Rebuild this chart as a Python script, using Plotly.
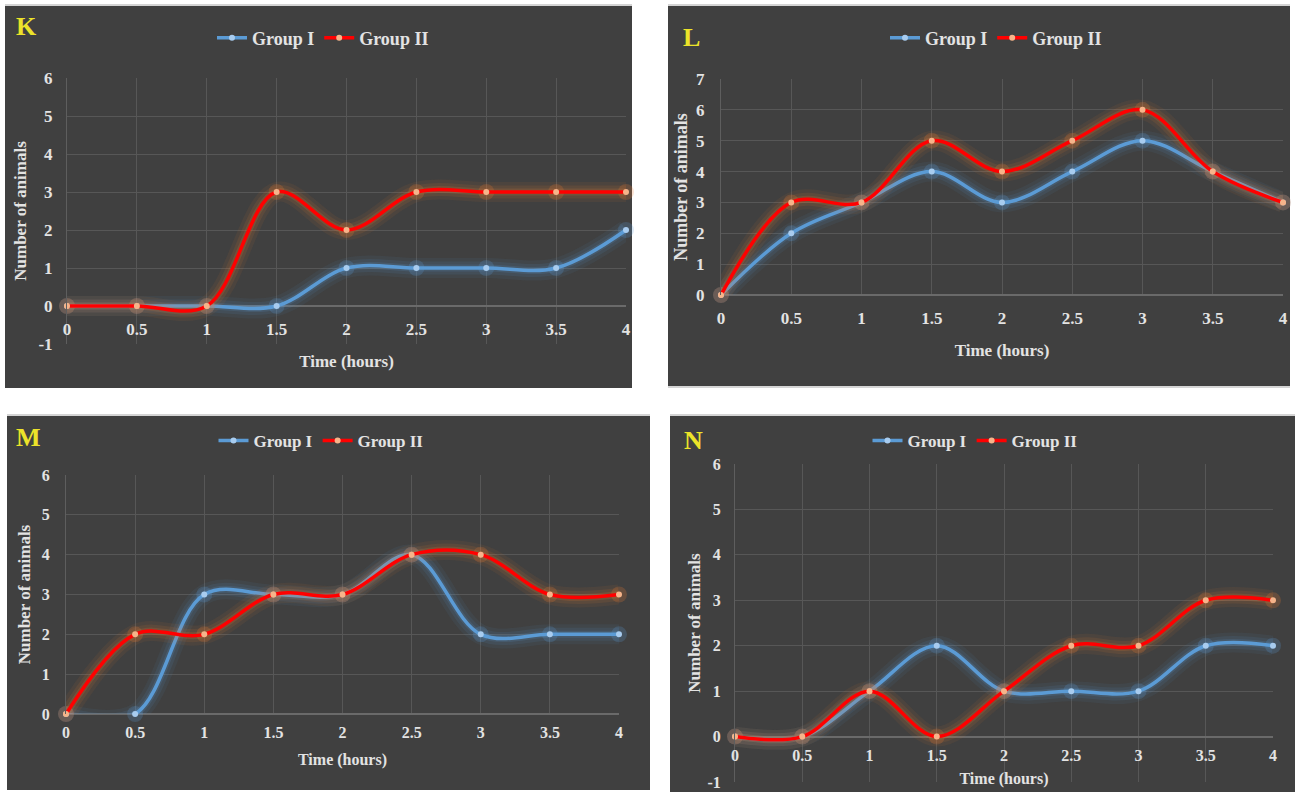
import plotly.graph_objects as go

W, H = 1295, 792

time_hours = [0, 0.5, 1, 1.5, 2, 2.5, 3, 3.5, 4]
tick_labels = ["0", "0.5", "1", "1.5", "2", "2.5", "3", "3.5", "4"]
series_names = ["Group I", "Group II"]

k_group1 = [0, 0, 0, 0, 1, 1, 1, 1, 2]
k_group2 = [0, 0, 0, 3, 2, 3, 3, 3, 3]
l_group1 = [0, 2, 3, 4, 3, 4, 5, 4, 3]
l_group2 = [0, 3, 3, 5, 4, 5, 6, 4, 3]
m_group1 = [0, 0, 3, 3, 3, 4, 2, 2, 2]
m_group2 = [0, 2, 2, 3, 3, 4, 4, 3, 3]
n_group1 = [0, 0, 1, 2, 1, 1, 1, 2, 2]
n_group2 = [0, 0, 1, 0, 1, 2, 2, 3, 3]

panel_letters = ["K", "L", "M", "N"]
y_ranges = [(-1, 6), (0, 7), (0, 6), (-1, 6)]

FONT = "Liberation Serif"
BG = "#404040"
TXT = "#e3e3e3"
GRID = "#575757"
BLUE = "#5b9bd5"
RED = "#ff0000"
BLUE_MK = "#a8ccef"
RED_MK = "#f6b48a"

def px(x):
    return x / W

def py(y):
    return 1 - y / H

# panel geometry in pixels
panels = [
    dict(bg=(5, 6, 632, 388), plot=(67, 78, 626, 344), legend=(323, 38), letter=(26, 27),
         fs=17, lfs=18, tsz=17, tstand=17, ytstand=7, ystd=10, xstd=11, ysz=17, bottom_line=False),
    dict(bg=(668, 6, 1290, 386), plot=(721, 79, 1283, 295), legend=(996, 38), letter=(691, 37),
         fs=17, lfs=18, tsz=17, tstand=17, ytstand=3, ystd=12, xstd=11, ysz=18, bottom_line=True),
    dict(bg=(7, 416, 650, 790), plot=(66, 475, 619, 714), legend=(321, 441), letter=(29, 437),
         fs=16, lfs=17, tsz=16, tstand=13, ytstand=6, ystd=12, xstd=7, ysz=17, bottom_line=False),
    dict(bg=(670, 416, 1295, 792), plot=(735, 464, 1273, 782), legend=(975, 441), letter=(694, 441),
         fs=16, lfs=17, tsz=16, tstand=10, ytstand=2, ystd=10, xstd=7, ysz=17, bottom_line=False),
]
data = [(k_group1, k_group2), (l_group1, l_group2), (m_group1, m_group2), (n_group1, n_group2)]

fig = go.Figure()
shapes = []
annotations = []
layout = dict(
    width=W, height=H, margin=dict(l=0, r=0, t=0, b=0),
    paper_bgcolor="white", plot_bgcolor=BG, template="none",
    font=dict(family=FONT, color=TXT, weight="bold"),
)

for i, p in enumerate(panels):
    n = i + 1
    sfx = "" if n == 1 else str(n)
    xa, ya = "x" + sfx, "y" + sfx
    leg = "legend" if n == 1 else "legend" + str(n)
    bx0, by0, bx1, by1 = p["bg"]
    shapes.append(dict(type="rect", xref="paper", yref="paper", x0=px(bx0), x1=px(bx1),
                       y0=py(by1), y1=py(by0), fillcolor=BG, line=dict(width=0), layer="below"))
    shapes.append(dict(type="line", xref="paper", yref="paper", x0=px(bx0), x1=px(bx1),
                       y0=py(by0 - 1), y1=py(by0 - 1), line=dict(color="#d4d4d4", width=2)))
    if p["bottom_line"]:
        shapes.append(dict(type="line", xref="paper", yref="paper", x0=px(bx0), x1=px(bx1),
                           y0=py(by1 + 1), y1=py(by1 + 1), line=dict(color="#d4d4d4", width=2)))
    x0, y0, x1, y1 = p["plot"]
    xd = [px(x0), px(x1)]
    yd = [py(y1), py(y0)]
    r0, r1 = y_ranges[i]
    fs = p["fs"]
    zero_inside = r0 < 0

    g1, g2 = data[i]
    for name, vals, col, mk, glow in [
        (series_names[0], g1, BLUE, BLUE_MK, "91,155,213"),
        (series_names[1], g2, RED, RED_MK, "237,125,49"),
    ]:
        for gw, ga in [(20, 0.07), (13, 0.10), (7, 0.16)]:
            fig.add_trace(go.Scatter(x=time_hours, y=vals, xaxis=xa, yaxis=ya, mode="lines",
                                     line=dict(color=f"rgba({glow},{ga})", width=gw, shape="spline"),
                                     showlegend=False, hoverinfo="skip", cliponaxis=False))
        fig.add_trace(go.Scatter(x=time_hours, y=vals, xaxis=xa, yaxis=ya, mode="markers",
                                 marker=dict(size=16, color=f"rgba({glow},0.22)"),
                                 showlegend=False, hoverinfo="skip", cliponaxis=False))
        fig.add_trace(go.Scatter(x=time_hours, y=vals, xaxis=xa, yaxis=ya, mode="lines+markers",
                                 name=name, legend=leg,
                                 line=dict(color=col, width=3.5, shape="spline"),
                                 marker=dict(size=6, color=mk),
                                 cliponaxis=False))

    tickfont = dict(size=fs, family=FONT, color=TXT, weight="bold")
    xaxis = dict(domain=xd, range=[0, 4], showgrid=True, gridcolor=GRID,
                 gridwidth=1, tickvals=time_hours, ticktext=tick_labels, zeroline=False,
                 showline=False, ticklabelstandoff=p["xstd"], tickfont=tickfont, automargin=False,
                 title=dict(text="Time (hours)",
                            font=dict(size=p["tsz"], family=FONT, color=TXT, weight="bold"),
                            standoff=p["tstand"]))
    if zero_inside:
        pos = yd[0] + (0 - r0) / (r1 - r0) * (yd[1] - yd[0])
        xaxis.update(anchor="free", position=pos)
    else:
        xaxis.update(anchor=ya)
    layout["xaxis" + sfx] = xaxis
    yvals = list(range(r0, r1 + 1))
    layout["yaxis" + sfx] = dict(domain=yd, anchor=xa, range=[r0, r1], tickvals=yvals,
                                 ticktext=[str(v) for v in yvals], showgrid=True,
                                 gridcolor=GRID, gridwidth=1, zeroline=True, zerolinecolor="#6a6a6a",
                                 zerolinewidth=1.5, showline=True, linecolor="#5e5e5e",
                                 ticklabelstandoff=p["ystd"], tickfont=tickfont, automargin=False,
                                 title=dict(text="Number of animals",
                                            font=dict(size=p["ysz"], family=FONT, color=TXT, weight="bold"),
                                            standoff=p["ytstand"]))
    lx, lyy = p["legend"]
    layout[leg] = dict(x=px(lx), y=py(lyy), xanchor="center", yanchor="middle", orientation="h",
                       bgcolor="rgba(0,0,0,0)",
                       font=dict(size=p["lfs"], family=FONT, color=TXT, weight="bold"),
                       itemwidth=30, tracegroupgap=0)
    ltx, lty = p["letter"]
    annotations.append(dict(text=panel_letters[i], xref="paper", yref="paper", x=px(ltx), y=py(lty),
                            xanchor="center", yanchor="middle", showarrow=False,
                            font=dict(size=26, family=FONT, color="#ece32a", weight="bold")))

layout["shapes"] = shapes
layout["annotations"] = annotations
fig.update_layout(**layout)
fig.write_html("out.html", config={"displayModeBar": False},
               post_script="document.body.style.margin='0';document.body.style.overflow='hidden';")
